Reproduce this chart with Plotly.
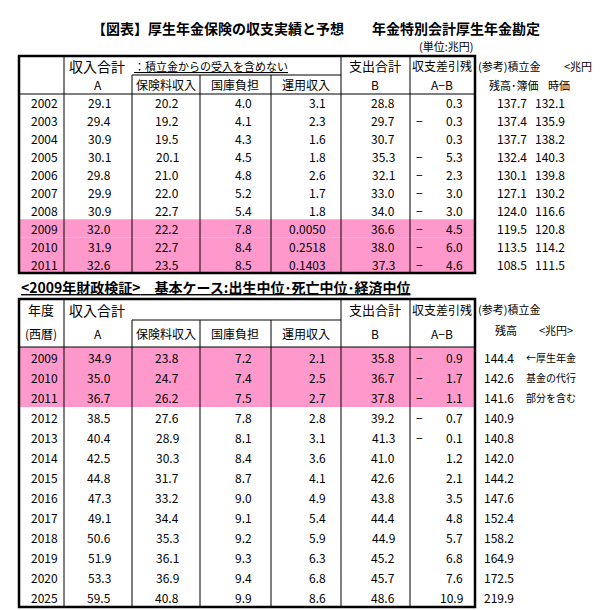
import plotly.graph_objects as go

# top table: 年金特別会計厚生年金勘定 (実績・予算)
years_top = [2002, 2003, 2004, 2005, 2006, 2007, 2008, 2009, 2010, 2011]
income_top = [29.1, 29.4, 30.9, 30.1, 29.8, 29.9, 30.9, 32.0, 31.9, 32.6]
premium_top = [20.2, 19.2, 19.5, 20.1, 21.0, 22.0, 22.7, 22.2, 22.7, 23.5]
state_top = [4.0, 4.1, 4.3, 4.5, 4.8, 5.2, 5.4, 7.8, 8.4, 8.5]
invest_top = ["3.1", "2.3", "1.6", "1.8", "2.6", "1.7", "1.8", "0.0050", "0.2518", "0.1403"]
spend_top = [28.8, 29.7, 30.7, 35.3, 32.1, 33.0, 34.0, 36.6, 38.0, 37.3]
diff_top = [0.3, -0.3, 0.3, -5.3, -2.3, -3.0, -3.0, -4.5, -6.0, -4.6]
book_top = [137.7, 137.4, 137.7, 132.4, 130.1, 127.1, 124.0, 119.5, 113.5, 108.5]
market_top = [132.1, 135.9, 138.2, 140.3, 139.8, 130.2, 116.6, 120.8, 114.2, 111.5]

# bottom table: 2009年財政検証 基本ケース
years_bot = [2009, 2010, 2011, 2012, 2013, 2014, 2015, 2016, 2017, 2018, 2019, 2020, 2025]
income_bot = [34.9, 35.0, 36.7, 38.5, 40.4, 42.5, 44.8, 47.3, 49.1, 50.6, 51.9, 53.3, 59.5]
premium_bot = [23.8, 24.7, 26.2, 27.6, 28.9, 30.3, 31.7, 33.2, 34.4, 35.3, 36.1, 36.9, 40.8]
state_bot = [7.2, 7.4, 7.5, 7.8, 8.1, 8.4, 8.7, 9.0, 9.1, 9.2, 9.3, 9.4, 9.9]
invest_bot = [2.1, 2.5, 2.7, 2.8, 3.1, 3.6, 4.1, 4.9, 5.4, 5.9, 6.3, 6.8, 8.6]
spend_bot = [35.8, 36.7, 37.8, 39.2, 41.3, 41.0, 42.6, 43.8, 44.4, 44.9, 45.2, 45.7, 48.6]
diff_bot = [-0.9, -1.7, -1.1, -0.7, -0.1, 1.2, 2.1, 3.5, 4.8, 5.7, 6.8, 7.6, 10.9]
reserve_bot = [144.4, 142.6, 141.6, 140.9, 140.8, 142.0, 144.2, 147.6, 152.4, 158.2, 164.9, 172.5, 219.9]

pink_years = [2009, 2010, 2011]
PINK = "#FF99CC"
FONT = "Noto Sans CJK JP"

# column edges (x) shared by both tables
cols = [3, 48, 116, 184, 255, 325, 394, 459]
right = [44, 97, 165, 238, 312, 381, 449]

fig = go.Figure()
shapes = []
ann = []


def text(x, y, s, size=12, anchor="center", bold=False, underline=False):
    if bold:
        s = "<b>" + s + "</b>"
    if underline:
        s = "<u>" + s + "</u>"
    ann.append(dict(x=x, y=y, xref="x", yref="y", text=s, showarrow=False,
                    xanchor=anchor, yanchor="middle",
                    font=dict(family=FONT, size=size, color="black")))


def line(x0, y0, x1, y1, w=1):
    shapes.append(dict(type="line", xref="x", yref="y", x0=x0, y0=y0, x1=x1, y1=y1,
                       line=dict(color="black", width=w)))


def draw_table(top, head_mid, head_bot, row_h, years, cols_data, diffs, year_head):
    bottom = head_bot + row_h * len(years)
    for i, yr in enumerate(years):
        y0 = head_bot + i * row_h
        if yr in pink_years:
            shapes.append(dict(type="rect", xref="x", yref="y", x0=cols[0], x1=cols[-1],
                               y0=y0, y1=y0 + row_h, fillcolor=PINK, line=dict(width=0),
                               layer="below"))
        yc = y0 + row_h / 2
        text(right[0], yc, str(yr), anchor="right")
        for j, vals in enumerate(cols_data):
            v = vals[i]
            s = v if isinstance(v, str) else f"{v:.1f}"
            text(right[j + 1], yc, s, anchor="right")
        d = diffs[i]
        if d < 0:
            text(398, yc, "−", anchor="left")
        text(right[6], yc, f"{abs(d):.1f}", anchor="right")
    # grid
    line(cols[0], head_bot, cols[-1], head_bot)
    line(cols[2], head_mid, cols[5], head_mid)
    for k, x in enumerate(cols[1:-1], start=1):
        y_start = head_mid if k in (2, 3, 4) else top
        line(x, y_start, x, bottom)
    shapes.append(dict(type="rect", xref="x", yref="y", x0=cols[0], x1=cols[-1], y0=top, y1=bottom,
                       line=dict(color="black", width=2.5)))
    # headers
    r1 = (top + head_mid) / 2
    r2 = (head_mid + head_bot) / 2
    if year_head:
        text(25, r1, "年度", size=13)
        text(25, r2, "(西暦)", size=12)
    text(51, r1, "収入合計", size=14, anchor="left")
    text(82, r2, "A")
    text(150, r2, "保険料収入")
    text(219, r2, "国庫負担")
    text(290, r2, "運用収入")
    text(359, r1, "支出合計", size=13)
    text(359, r2, "B")
    text(426, r1, "収支差引残")
    text(426, r2, "A−B")
    return bottom


# top section
text(300, 12, "【図表】厚生年金保険の収支実績と予想　　年金特別会計厚生年金勘定", size=14, bold=True)
text(430, 30, "(単位:兆円)", size=11)
b1 = draw_table(40, 59, 78, 17.9, years_top,
                [income_top, premium_top, state_top, invest_top, spend_top], diff_top, False)
text(116, 50, "：積立金からの受入を含めない", size=11, anchor="left", underline=True)
text(460, 50, "(参考)積立金", size=11, anchor="left")
text(565, 50, "<兆円>", size=11)
text(498, 69, "残高･簿価", size=11)
text(543, 69, "時価", size=11)
for i in range(len(years_top)):
    yc = 78 + 17.9 * i + 17.9 / 2
    text(513, yc, f"{book_top[i]:.1f}", anchor="right")
    text(551, yc, f"{market_top[i]:.1f}", anchor="right")

# bottom section
text(3, 271, "<u><2009年財政検証>　基本ケース:出生中位･死亡中位･経済中位</u>", size=14,
     anchor="left", bold=True)
b2 = draw_table(283, 304, 331, 20.0, years_bot,
                [income_bot, premium_bot, state_bot, invest_bot, spend_bot], diff_bot, True)
text(460, 293, "(参考)積立金", size=11, anchor="left")
text(490, 314, "残高", size=11)
text(540, 314, "<兆円>", size=11)
notes = ["←厚生年金", "基金の代行", "部分を含む"]
for i in range(len(years_bot)):
    yc = 331 + 20.0 * i + 20.0 / 2
    text(500, yc, f"{reserve_bot[i]:.1f}", anchor="right")
    if i < len(notes):
        text(508, yc, notes[i], size=10, anchor="left")

text(3, 600, "2009年2月23日の社会保障審議会年金部会で発表されたもの。", size=12, anchor="left")

# page body has an 8px margin, so the axis window is shifted to line up with the reference
fig.update_layout(
    width=600, height=610, margin=dict(l=0, r=0, t=0, b=0),
    plot_bgcolor="white", paper_bgcolor="white",
    xaxis=dict(range=[-8, 592], visible=False, fixedrange=True),
    yaxis=dict(range=[602, -8], visible=False, fixedrange=True),
    shapes=shapes, annotations=ann, showlegend=False,
)
fig.write_html("out.html", config={"displayModeBar": False})
